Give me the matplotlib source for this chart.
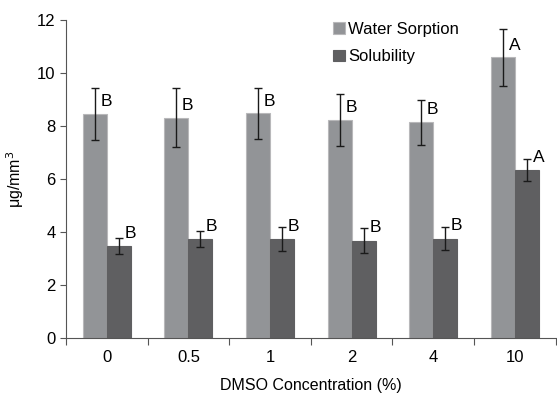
import matplotlib.pyplot as plt
import numpy as np

plt.rcParams['font.family'] = ['Liberation Sans', 'DejaVu Sans']

concentrations = ['0', '0.5', '1', '2', '4', '10']
water_sorption = [8.46, 8.31, 8.48, 8.23, 8.15, 10.59]
water_err = [0.97, 1.12, 0.96, 0.98, 0.85, 1.08]
solubility = [3.47, 3.72, 3.72, 3.67, 3.75, 6.34]
solubility_err = [0.31, 0.30, 0.45, 0.48, 0.43, 0.43]
water_letters = ['B', 'B', 'B', 'B', 'B', 'A']
solubility_letters = ['B', 'B', 'B', 'B', 'B', 'A']

fig = plt.figure(figsize=(5.57, 3.93), dpi=100)
ax = fig.add_axes([0.1185, 0.140, 0.879, 0.809])

x = np.arange(len(concentrations))
w = 0.294

ax.bar(x - w / 2, water_sorption, w, color='#929497', edgecolor='#b8b8ba',
       linewidth=0.8, label='Water Sorption', zorder=2)
ax.bar(x + w / 2, solubility, w, color='#5f5f61', edgecolor='#5f5f61',
       linewidth=0.8, label='Solubility', zorder=2)
ax.errorbar(x - w / 2, water_sorption, yerr=water_err, fmt='none',
            ecolor='#1a1a1a', elinewidth=1, capsize=3, capthick=1, zorder=3)
ax.errorbar(x + w / 2, solubility, yerr=solubility_err, fmt='none',
            ecolor='#1a1a1a', elinewidth=1, capsize=3, capthick=1, zorder=3)

for xi, v, s in zip(x - w / 2, water_sorption, water_letters):
    ax.text(xi + 0.07, v + 0.18, s, fontsize=12.5, va='bottom', ha='left')
for xi, v, s in zip(x + w / 2, solubility, solubility_letters):
    ax.text(xi + 0.07, v + 0.2, s, fontsize=12.5, va='bottom', ha='left')

ax.set_xlim(-0.5, 5.5)
ax.set_ylim(0, 12)
ax.set_yticks(range(0, 13, 2))
ax.set_xticks(np.arange(-0.5, 6, 1))
ax.set_xticklabels([])
ax.set_xticks(x, minor=True)
ax.set_xticklabels(concentrations, minor=True)
ax.tick_params(axis='x', which='major', length=5, color='#555555')
ax.tick_params(axis='x', which='minor', length=0, pad=9, labelsize=12)
ax.tick_params(axis='y', length=4, color='#555555', labelsize=12)

for side in ['top', 'right']:
    ax.spines[side].set_visible(False)
for side in ['left', 'bottom']:
    ax.spines[side].set_color('#555555')

ax.set_ylabel('μg/mm$^3$', fontsize=11.5, labelpad=8)
ax.set_xlabel('DMSO Concentration (%)', fontsize=11.5, labelpad=9)

ax.legend(loc='upper left', bbox_to_anchor=(0.532, 1.015), frameon=False,
          fontsize=12, handlelength=0.7, handleheight=0.7,
          handletextpad=0.2, labelspacing=0.75, borderaxespad=0)

fig.savefig('out.png', dpi=100)
